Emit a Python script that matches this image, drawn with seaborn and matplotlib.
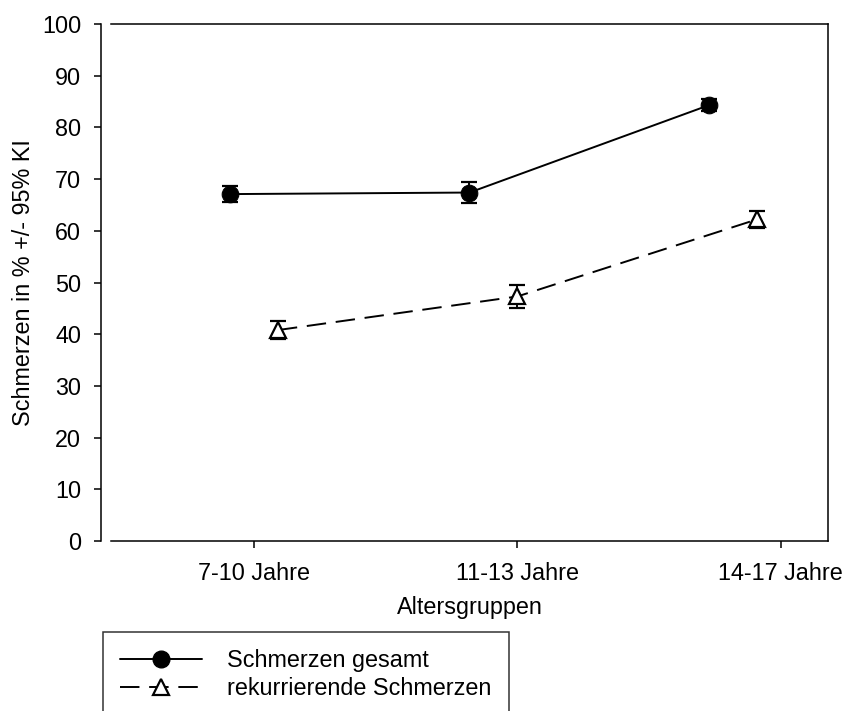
import numpy as np
import pandas as pd
import matplotlib
matplotlib.use("Agg")
import matplotlib.pyplot as plt
import seaborn as sns
from matplotlib.lines import Line2D

# ---- data ----
groups = ["7-10 Jahre", "11-13 Jahre", "14-17 Jahre"]
series_names = ["Schmerzen gesamt", "rekurrierende Schmerzen"]
gesamt = [67.1, 67.4, 84.3]
gesamt_ci = [1.6, 2.0, 1.2]
rekurr = [40.8, 47.3, 62.2]
rekurr_ci = [1.7, 2.2, 1.6]
y_ticks = [0, 10, 20, 30, 40, 50, 60, 70, 80, 90, 100]

FS = 16.8
sns.set_theme(style="ticks")
plt.rcParams["font.family"] = ["Liberation Sans", "DejaVu Sans"]
plt.rcParams["font.size"] = FS
plt.rcParams["text.color"] = "black"
plt.rcParams["axes.labelcolor"] = "black"

fig = plt.figure(figsize=(8.45, 7.11), dpi=100)
ax = fig.add_axes([111 / 845, 1 - 541 / 711, (828 - 111) / 845, (541 - 24) / 711])

idx = np.arange(len(groups))
offset = 0.1
df = pd.DataFrame({
    "x": np.concatenate([idx - offset, idx + offset]),
    "val": gesamt + rekurr,
    "series": [series_names[0]] * len(groups) + [series_names[1]] * len(groups),
})

sns.lineplot(data=df, x="x", y="val", style="series", hue="series",
             palette=["black", "black"], markers=["o", "^"],
             dashes=[(None, None), (10, 5)], ax=ax, linewidth=1.4,
             markersize=12, legend=False)

lines = ax.get_lines()
lines[0].set_markerfacecolor("black")
lines[0].set_markeredgecolor("black")
lines[0].set_markersize(12)
lines[1].set_markerfacecolor("white")
lines[1].set_markeredgecolor("black")
lines[1].set_markeredgewidth(1.6)
lines[1].set_markersize(11)

ax.errorbar(idx - offset, gesamt, yerr=gesamt_ci, fmt="none", ecolor="black",
            elinewidth=1.4, capsize=5.5, capthick=1.6, zorder=1)
ax.errorbar(idx + offset, rekurr, yerr=rekurr_ci, fmt="none", ecolor="black",
            elinewidth=1.4, capsize=5.5, capthick=1.6, zorder=1)
for l in lines:
    l.set_zorder(3)

ax.set_xlim(-0.597, 2.397)
ax.set_ylim(0, 100)
ax.set_xticks(idx * 1.1)
ax.set_xticklabels(groups)
ax.set_yticks(y_ticks)
ax.set_xlabel("Altersgruppen", fontsize=FS, labelpad=8, color="black")
ax.set_ylabel("Schmerzen in % +/- 95% KI", fontsize=FS, labelpad=5, color="black")

for s in ax.spines.values():
    s.set_visible(True)
    s.set_color("black")
    s.set_linewidth(1.1)
ax.spines["left"].set_position(("outward", 7))
ax.tick_params(axis="y", direction="out", length=5, width=1.1, pad=9.5,
               labelsize=FS, colors="black", right=False)
ax.tick_params(axis="x", direction="out", length=5, width=1.1, pad=10,
               labelsize=FS, colors="black", top=False)

# legend
h1 = Line2D([], [], color="black", lw=1.4, marker="o", markersize=12,
            markerfacecolor="black")
h2 = Line2D([], [], color="black", lw=1.4, linestyle=(0, (10, 5)), marker="^",
            markersize=11, markerfacecolor="white", markeredgewidth=1.6)
leg = fig.legend([h1, h2], series_names, loc="upper left",
                 bbox_to_anchor=(103 / 845, 1 - 631.7 / 711),
                 frameon=True, fancybox=False, edgecolor="black",
                 handlelength=3.5, handletextpad=1.05, borderpad=0.75,
                 labelspacing=0.2, fontsize=FS, borderaxespad=0)
leg.get_frame().set_linewidth(1.1)
for t in leg.get_texts():
    t.set_color("black")

fig.savefig("out.png", dpi=100)
